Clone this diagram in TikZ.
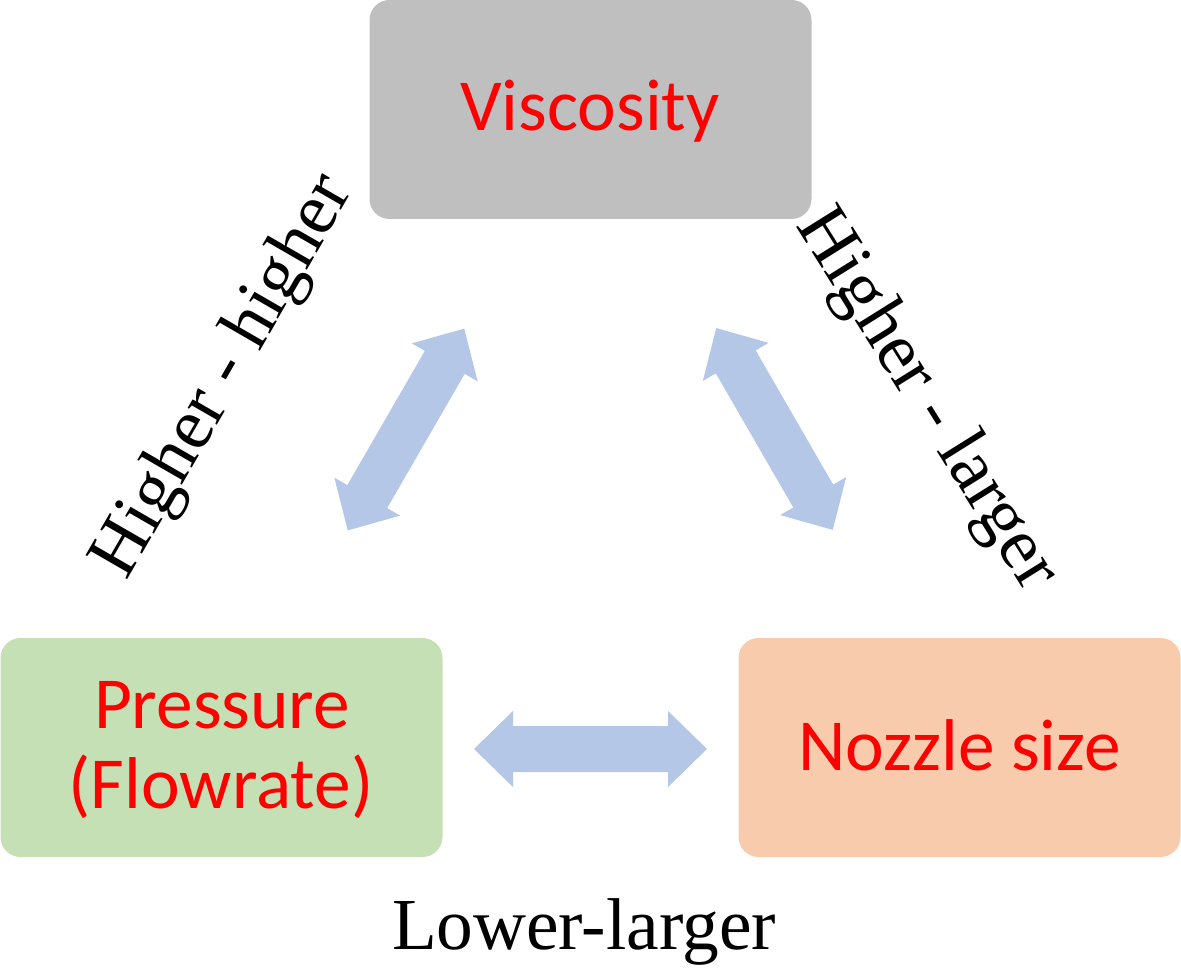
\documentclass[tikz,border=0pt]{standalone}
\usepackage{fontspec}
\setmainfont{Liberation Serif}
\newfontfamily\boxfont{Carlito}
\definecolor{viscgray}{HTML}{BFBFBF}
\definecolor{pressgreen}{HTML}{C5E0B4}
\definecolor{nozzorange}{HTML}{F8CBAD}
\definecolor{arrowblue}{HTML}{B4C7E7}
\definecolor{txtred}{HTML}{FF0000}
\tikzset{
  box/.style={rounded corners=15pt, minimum width=331.5pt, minimum height=164.25pt, inner sep=0pt, draw=none},
  boxtext/.style={font=\boxfont\fontsize{55pt}{60pt}\selectfont, text=txtred, inner sep=0pt, anchor=base},
  relabel/.style={font=\fontsize{55pt}{60pt}\selectfont, text=black, inner sep=0pt, anchor=base},
  dblarrow/.pic={
    \fill[arrowblue, rotate=#1] (-116.5,0) -- (-77.5,38) -- (-77.5,23) -- (77.5,23) -- (77.5,38)
      -- (116.5,0) -- (77.5,-38) -- (77.5,-23) -- (-77.5,-23) -- (-77.5,-38) -- cycle;
  }
}
\begin{document}
\begin{tikzpicture}[x=0.75pt, y=-0.75pt]
\useasboundingbox (0,0) rectangle (1181,973);
% boxes
\node[box, fill=viscgray] (visc) at (590.5,109.5) {};
\node[box, fill=pressgreen] (press) at (221.5,747.5) {};
\node[box, fill=nozzorange] (nozz) at (959.5,747.5) {};
% box texts
\node[boxtext] (visct) at (590,131) {Viscosity};
\node[boxtext] (presst1) at (222,728) {Pressure};
\node[boxtext] (presst2) at (221,808) {(Flowrate)};
\node[boxtext] (nozzt) at (959.5,770) {Nozzle size};
% arrows
\pic (arrL) at (406,429.5) {dblarrow=60};
\pic (arrR) at (774.5,429) {dblarrow=-60};
\pic (arrH) at (590.5,749) {dblarrow=0};
% relation labels
\node[relabel, rotate=60] (labL) at (240,386) {Higher - higher};
\node[relabel, rotate=-58] (labR) at (911,410) {Higher - larger};
\node[relabel] (labB) at (584,949) {Lower-larger};
\end{tikzpicture}
\end{document}
